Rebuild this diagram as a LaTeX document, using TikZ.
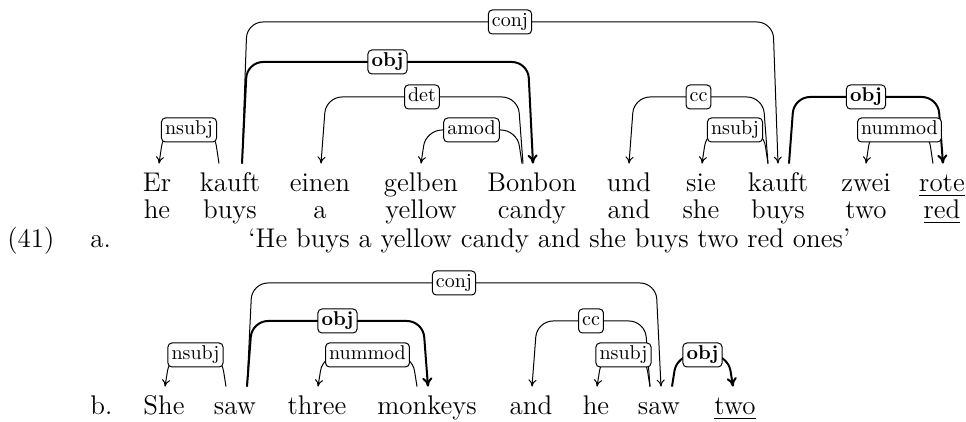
\documentclass[tikz,border=0pt]{standalone}
\usepackage{tikz}
\usetikzlibrary{arrows.meta}

\begin{document}
\begin{tikzpicture}[
          x=0.5pt, y=-0.5pt,
          word/.style={inner sep=0pt, anchor=base, text height=14pt, text depth=4pt, font=\fontsize{13.5pt}{16pt}\selectfont},
          lab/.style={draw, fill=white, rounded corners=2pt, line width=0.5pt, inner xsep=1.8pt, inner ysep=1.5pt, text height=6.8pt, text depth=2.2pt, font=\fontsize{10pt}{12pt}\selectfont},
          dep/.style={draw, line width=0.5pt, rounded corners=8pt},
          strong/.style={dep, line width=1pt, >={To[length=4.5pt, width=5pt]}},
          >={To[length=3.5pt, width=4pt]}
        ]
        \useasboundingbox (0,0) rectangle (966,422);
        % (41a) words
        \node[word] (Er) at (157,192) {Er};
        \node[word] (kauftA) at (230,192) {kauft};
        \node[word] (einen) at (320,192) {einen};
        \node[word] (gelben) at (421,192) {gelben};
        \node[word] (Bonbon) at (532,192) {Bonbon};
        \node[word] (und) at (629,192) {und};
        \node[word] (sie) at (701,192) {sie};
        \node[word] (kauftB) at (778,192) {kauft};
        \node[word] (zwei) at (866,192) {zwei};
        \node[word] (rote) at (942,192) {\underline{rote}};
        % glosses
        \node[word] (he) at (157,219) {he};
        \node[word] (buysA) at (230,219) {buys};
        \node[word] (a) at (320,219) {a};
        \node[word] (yellow) at (421,219) {yellow};
        \node[word] (candy) at (532,219) {candy};
        \node[word] (and) at (629,219) {and};
        \node[word] (she) at (701,219) {she};
        \node[word] (buysB) at (778,219) {buys};
        \node[word] (two) at (866,219) {two};
        \node[word] (red) at (942,219) {\underline{red}};
        % number and translation
        \node[word, anchor=base west] (num) at (7,248) {(41)};
        \node[word, anchor=base west] (amark) at (90,248) {a.};
        \node[word, anchor=base west] (trans) at (248,248) {‘He buys a yellow candy and she buys two red ones’};
        % (41b) words
        \node[word, anchor=base west] (bmark) at (90,415) {b.};
        \node[word] (bShe) at (164,415) {She};
        \node[word] (bsawA) at (235,415) {saw};
        \node[word] (bthree) at (317,415) {three};
        \node[word] (bmonkeys) at (427,415) {monkeys};
        \node[word] (band) at (531,415) {and};
        \node[word] (bhe) at (596,415) {he};
        \node[word] (bsawB) at (659,415) {saw};
        \node[word] (btwo) at (735,415) {\underline{two}};

        % (41a) arcs
        \draw[dep, <-] ([xshift=1pt]Er.north) -- ([xshift=3.5pt]Er.north |- 0,130)
          -- node[lab] {nsubj} ([xshift=-8pt]kauftA.north |- 0,130) -- ([xshift=-5.5pt]kauftA.north);
        \draw[dep, ->] ([xshift=6pt]kauftA.north) -- ([xshift=8.5pt]kauftA.north |- 0,22)
          -- node[lab] {conj} ([xshift=-2.5pt]kauftB.north |- 0,22) -- (kauftB.north);
        \draw[strong, ->] ([xshift=6pt]kauftA.north) -- ([xshift=8.5pt]kauftA.north |- 0,62)
          -- node[lab] {\textbf{obj}} ([xshift=-2pt]Bonbon.north |- 0,62) -- ([xshift=0.5pt]Bonbon.north);
        \draw[dep, <-] ([xshift=0.5pt]einen.north) -- ([xshift=3pt]einen.north |- 0,97)
          -- node[lab] {det} ([xshift=-7pt]Bonbon.north |- 0,97) -- ([xshift=-4.5pt]Bonbon.north);
        \draw[dep, <-] (gelben.north) -- ([xshift=2.5pt]gelben.north |- 0,130)
          -- node[lab] {amod} ([xshift=-7.5pt]Bonbon.north |- 0,130) -- ([xshift=-5pt]Bonbon.north);
        \draw[dep, <-] (und.north) -- ([xshift=2.5pt]und.north |- 0,97)
          -- node[lab] {cc} ([xshift=-7.5pt]kauftB.north |- 0,97) -- ([xshift=-5pt]kauftB.north);
        \draw[dep, <-] ([xshift=0.5pt]sie.north) -- ([xshift=3pt]sie.north |- 0,130)
          -- node[lab] {nsubj} ([xshift=-7.5pt]kauftB.north |- 0,130) -- ([xshift=-5pt]kauftB.north);
        \draw[strong, ->] ([xshift=5.5pt]kauftB.north) -- ([xshift=8pt]kauftB.north |- 0,97)
          -- node[lab] {\textbf{obj}} ([xshift=-2pt]rote.north |- 0,97) -- ([xshift=0.5pt]rote.north);
        \draw[dep, <-] (zwei.north) -- ([xshift=2.5pt]zwei.north |- 0,130)
          -- node[lab] {nummod} ([xshift=-7pt]rote.north |- 0,130) -- ([xshift=-4.5pt]rote.north);

        % (41b) arcs
        \draw[dep, <-] ([xshift=0.5pt]bShe.north) -- ([xshift=3pt]bShe.north |- 0,355)
          -- node[lab] {nsubj} ([xshift=-7pt]bsawA.north |- 0,355) -- ([xshift=-4.5pt]bsawA.north);
        \draw[dep, ->] ([xshift=6pt]bsawA.north) -- ([xshift=8.5pt]bsawA.north |- 0,283)
          -- node[lab] {conj} ([xshift=-1.5pt]bsawB.north |- 0,283) -- ([xshift=1pt]bsawB.north);
        \draw[strong, ->] ([xshift=6pt]bsawA.north) -- ([xshift=8.5pt]bsawA.north |- 0,321)
          -- node[lab] {\textbf{obj}} ([xshift=-2pt]bmonkeys.north |- 0,321) -- ([xshift=0.5pt]bmonkeys.north);
        \draw[dep, <-] ([xshift=0.5pt]bthree.north) -- ([xshift=3pt]bthree.north |- 0,355)
          -- node[lab] {nummod} ([xshift=-7.5pt]bmonkeys.north |- 0,355) -- ([xshift=-5pt]bmonkeys.north);
        \draw[dep, <-] ([xshift=0.5pt]band.north) -- ([xshift=3pt]band.north |- 0,321)
          -- node[lab] {cc} ([xshift=-7pt]bsawB.north |- 0,321) -- ([xshift=-4.5pt]bsawB.north);
        \draw[dep, <-] ([xshift=0.5pt]bhe.north) -- ([xshift=3pt]bhe.north |- 0,355)
          -- node[lab] {nsubj} ([xshift=-7pt]bsawB.north |- 0,355) -- ([xshift=-4.5pt]bsawB.north);
        \draw[strong, ->] ([xshift=6.5pt]bsawB.north) -- ([xshift=9pt]bsawB.north |- 0,355)
          -- node[lab] {\textbf{obj}} ([xshift=-3.5pt]btwo.north |- 0,355) -- ([xshift=-1pt]btwo.north);
      \end{tikzpicture}
\end{document}
